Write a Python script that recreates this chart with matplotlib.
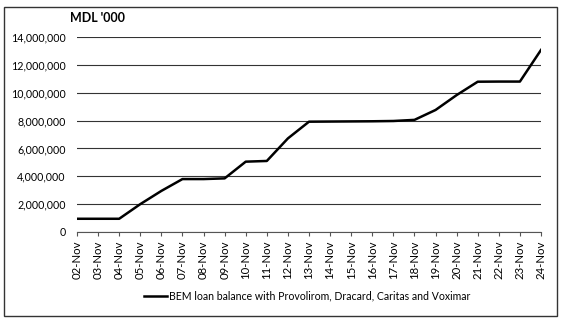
import matplotlib
matplotlib.use("Agg")
import matplotlib.pyplot as plt
from matplotlib.patches import Rectangle
from matplotlib.ticker import FuncFormatter

dates = ["02-Nov", "03-Nov", "04-Nov", "05-Nov", "06-Nov", "07-Nov", "08-Nov",
         "09-Nov", "10-Nov", "11-Nov", "12-Nov", "13-Nov", "14-Nov", "15-Nov",
         "16-Nov", "17-Nov", "18-Nov", "19-Nov", "20-Nov", "21-Nov", "22-Nov",
         "23-Nov", "24-Nov"]
balance = [950000, 950000, 950000, 2000000, 2950000, 3800000, 3800000,
           3850000, 5050000, 5100000, 6720000, 7920000, 7930000, 7940000,
           7950000, 7970000, 8050000, 8760000, 9830000, 10790000, 10800000,
           10800000, 13070000]
series_label = "BEM loan balance with Provolirom, Dracard, Caritas and Voximar"
unit_label = "MDL '000"
yticks = [0, 2000000, 4000000, 6000000, 8000000, 10000000, 12000000, 14000000]

plt.rcParams['font.family'] = ['Lato', 'DejaVu Sans']

fig = plt.figure(figsize=(5.64, 3.22), dpi=100)
ax = fig.add_axes([77/564, 1-232/322, (541-77)/564, (232-37)/322])

x = list(range(len(dates)))
line, = ax.plot(x, balance, color='black', lw=1.8, label=series_label, zorder=3)

ax.set_xlim(0, len(dates)-1)
ax.set_ylim(0, 14000000)
ax.set_yticks(yticks)
ax.yaxis.set_major_formatter(FuncFormatter(lambda v, p: f"{int(v):,}"))
ax.set_xticks(x)
ax.set_xticklabels(dates, rotation=90, fontsize=8.2)
ax.tick_params(axis='y', length=0, labelsize=7.7, pad=8)
ax.tick_params(axis='x', length=3, width=0.8, color='#555555', pad=3)
for s in ['top', 'right', 'left']:
    ax.spines[s].set_visible(False)
ax.spines['bottom'].set_color('#555555')
ax.spines['bottom'].set_linewidth(0.8)
ax.grid(axis='y', color='#333333', lw=0.8)
ax.set_axisbelow(True)

fig.text(70/564, 1-18/322, unit_label, fontsize=9, fontweight='bold', va='center', ha='left')

fig.legend(handles=[line], loc='center', bbox_to_anchor=(307/564, 1-296/322),
           frameon=False, fontsize=7.6, handlelength=2.2, handletextpad=0.2)

fig.patches.append(Rectangle((4/564, 1-316/322), 553/564, 309/322, transform=fig.transFigure,
                             fill=False, edgecolor='#333333', lw=1.0))

fig.savefig("out.png", dpi=100)
